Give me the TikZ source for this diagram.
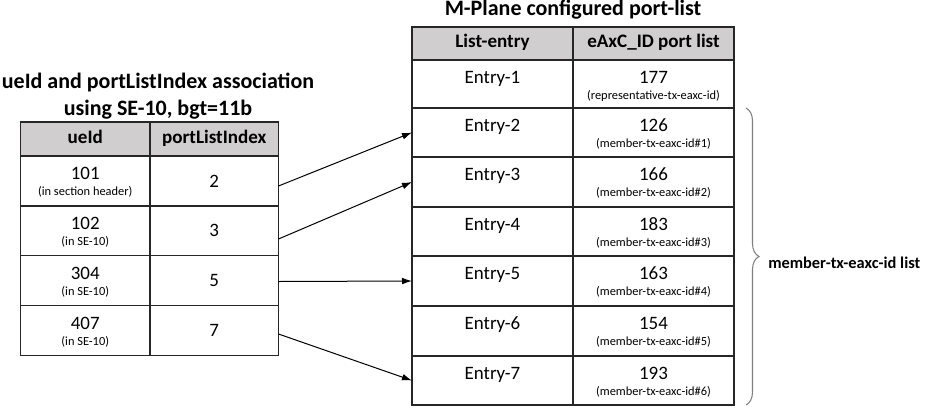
\documentclass[tikz,border=0pt]{standalone}
\usepackage{fontspec}
\setmainfont{Carlito}
\usetikzlibrary{arrows.meta,decorations.pathreplacing}
\definecolor{headgray}{HTML}{D0CECE}
\newcommand{\pxu}{0.75pt}

\begin{document}
\begin{tikzpicture}[x=0.75pt,y=-0.75pt,
    cell/.style={draw=black!85,line width=1pt,inner sep=0pt,outer sep=0pt,anchor=north west},
    head/.style={cell,fill=headgray,font=\fontsize{14.3}{17}\selectfont\bfseries,text height=0.64em,text depth=0pt},
    maintxt/.style={font=\fontsize{14.2}{17}\selectfont,inner sep=0pt},
    smalltxt/.style={font=\fontsize{9.3}{11}\selectfont,inner sep=0pt},
    titletxt/.style={font=\fontsize{16.5}{20}\selectfont\bfseries,inner sep=0pt},
    bracetxt/.style={font=\fontsize{12.3}{15}\selectfont\bfseries,inner sep=0pt},
    link/.style={-{Latex[length=7.5pt,width=5pt]},line width=0.75pt},
    bracket/.style={decorate,decoration={brace,amplitude=9.75pt},draw=gray,line width=0.8pt}]
    \useasboundingbox (0,0) rectangle (925,408);

    \node[titletxt,anchor=base] (astitle1) at (158,88.3) {ueId and portListIndex association};
    \node[titletxt,anchor=base] (astitle2) at (158,115) {using SE-10, bgt=11b};
    \node[titletxt,anchor=base] (mptitle) at (573,15) {M-Plane configured port-list};

    \node[head,minimum width=129.5*\pxu,minimum height=34*\pxu] (ueh) at (20.5,122) {ueId};
    \node[head,minimum width=128.5*\pxu,minimum height=34*\pxu] (plih) at (150,122) {portListIndex};
    \foreach \n/\ya/\ue/\note/\idx in {1/156/101/in section header/2,2/205.5/102/in SE-10/3,3/255.5/304/in SE-10/5,4/305.5/407/in SE-10/7}{
        \node[cell,minimum width=129.5*\pxu,minimum height=50*\pxu] (ue\n) at (20.5,\ya) {};
        \node[cell,maintxt,minimum width=128.5*\pxu,minimum height=50*\pxu] (pli\n) at (150,\ya) {\idx};
        \node[maintxt,anchor=base] (uev\n) at ([yshift=-23.5*\pxu]ue\n.north) {\ue};
        \node[smalltxt,anchor=base] (uen\n) at ([yshift=-39.5*\pxu]ue\n.north) {(\note)};
    }

    \node[head,minimum width=161*\pxu,minimum height=33*\pxu] (leh) at (412,27) {List-entry};
    \node[head,minimum width=161*\pxu,minimum height=33*\pxu] (pth) at (573,27) {eAxC\_ID port list};
    \foreach \n/\ya/\yb/\val/\note in {1/60/108/177/representative-tx-eaxc-id,2/108/157/126/member-tx-eaxc-id\#1,3/157/207/166/member-tx-eaxc-id\#2,4/207/256/183/member-tx-eaxc-id\#3,5/256/306/163/member-tx-eaxc-id\#4,6/306/356/154/member-tx-eaxc-id\#5,7/356/405/193/member-tx-eaxc-id\#6}{
        \node[cell,minimum width=161*\pxu,minimum height=(\yb-\ya)*\pxu] (le\n) at (412,\ya) {};
        \node[cell,minimum width=161*\pxu,minimum height=(\yb-\ya)*\pxu] (pt\n) at (573,\ya) {};
        \node[maintxt,anchor=base] (let\n) at ([yshift=-23.5*\pxu]le\n.north) {Entry-\n};
        \node[maintxt,anchor=base] (ptv\n) at ([yshift=-23.5*\pxu]pt\n.north) {\val};
        \node[smalltxt,anchor=base] (ptn\n) at ([yshift=-39.5*\pxu]pt\n.north) {(\note)};
    }

    \draw[link] ([yshift=-5*\pxu]pli1.east) -- (le2.west);
    \draw[link] ([yshift=-8.5*\pxu]pli2.east) -- (le3.west);
    \draw[link] ([yshift=-1*\pxu]pli3.east) -- (le5.west);
    \draw[link] ([yshift=-3.5*\pxu]pli4.east) -- (le7.west);

    \draw[bracket] ([xshift=12*\pxu]pt2.north east) -- ([xshift=12*\pxu]pt7.south east);
    \node[bracetxt,anchor=base west] (mlist) at (768,268) {member-tx-eaxc-id list};
\end{tikzpicture}
\end{document}
